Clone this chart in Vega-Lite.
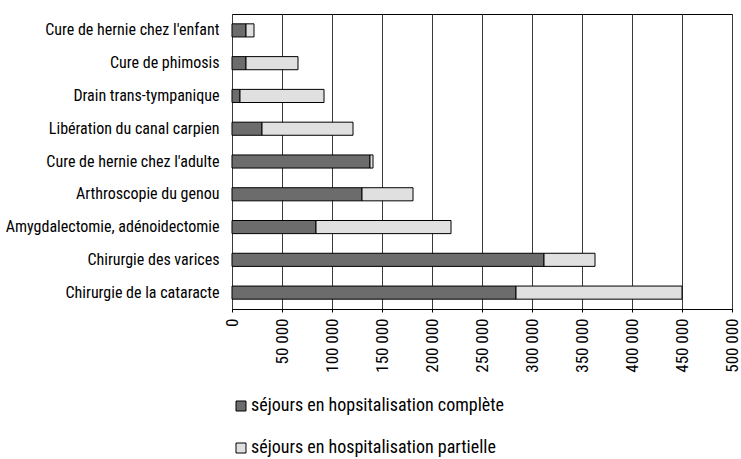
{
  "$schema": "https://vega.github.io/schema/vega-lite/v6.json",
  "width": 500,
  "height": 295,
  "autosize": {"type": "none"},
  "padding": {"left": 232, "top": 14, "right": 9, "bottom": 150},
  "background": "white",
  "config": {
    "font": "Roboto Condensed",
    "view": {"stroke": "black", "strokeWidth": 1},
    "legend": {"padding": 0}
  },
  "data": {
    "values": [
      {"acte": "Cure de hernie chez l'enfant", "type": "séjours en hopsitalisation complète", "sejours": 14000},
      {"acte": "Cure de hernie chez l'enfant", "type": "séjours en hospitalisation partielle", "sejours": 8000},
      {"acte": "Cure de phimosis", "type": "séjours en hopsitalisation complète", "sejours": 14000},
      {"acte": "Cure de phimosis", "type": "séjours en hospitalisation partielle", "sejours": 52000},
      {"acte": "Drain trans-tympanique", "type": "séjours en hopsitalisation complète", "sejours": 8000},
      {"acte": "Drain trans-tympanique", "type": "séjours en hospitalisation partielle", "sejours": 84000},
      {"acte": "Libération du canal carpien", "type": "séjours en hopsitalisation complète", "sejours": 30000},
      {"acte": "Libération du canal carpien", "type": "séjours en hospitalisation partielle", "sejours": 91000},
      {"acte": "Cure de hernie chez l'adulte", "type": "séjours en hopsitalisation complète", "sejours": 138000},
      {"acte": "Cure de hernie chez l'adulte", "type": "séjours en hospitalisation partielle", "sejours": 3000},
      {"acte": "Arthroscopie du genou", "type": "séjours en hopsitalisation complète", "sejours": 130000},
      {"acte": "Arthroscopie du genou", "type": "séjours en hospitalisation partielle", "sejours": 51000},
      {"acte": "Amygdalectomie, adénoidectomie", "type": "séjours en hopsitalisation complète", "sejours": 84000},
      {"acte": "Amygdalectomie, adénoidectomie", "type": "séjours en hospitalisation partielle", "sejours": 135000},
      {"acte": "Chirurgie des varices", "type": "séjours en hopsitalisation complète", "sejours": 312000},
      {"acte": "Chirurgie des varices", "type": "séjours en hospitalisation partielle", "sejours": 51000},
      {"acte": "Chirurgie de la cataracte", "type": "séjours en hopsitalisation complète", "sejours": 284000},
      {"acte": "Chirurgie de la cataracte", "type": "séjours en hospitalisation partielle", "sejours": 166000}
    ]
  },
  "mark": {"type": "bar", "stroke": "black", "strokeWidth": 1},
  "encoding": {
    "y": {
      "field": "acte",
      "type": "nominal",
      "sort": null,
      "title": null,
      "scale": {"paddingInner": 0.6, "paddingOuter": 0.3},
      "axis": {"ticks": false, "domain": false, "labelFontSize": 16, "labelColor": "black", "labelPadding": 13, "labelLimit": 300}
    },
    "x": {
      "field": "sejours",
      "type": "quantitative",
      "stack": "zero",
      "title": null,
      "scale": {"domain": [0, 500000], "nice": false},
      "axis": {
        "values": [0, 50000, 100000, 150000, 200000, 250000, 300000, 350000, 400000, 450000, 500000],
        "labelExpr": "replace(format(datum.value, ',d'), /,/g, ' ')",
        "labelAngle": -90,
        "labelAlign": "right",
        "labelBaseline": "middle",
        "labelFontSize": 17,
        "labelColor": "black",
        "labelPadding": 6,
        "tickColor": "black",
        "tickSize": 3,
        "domainColor": "black",
        "grid": true,
        "gridColor": "#3a3a3a",
        "gridOpacity": 1,
        "labelFlush": false,
        "labelOverlap": false
      }
    },
    "color": {
      "field": "type",
      "type": "nominal",
      "scale": {
        "domain": ["séjours en hopsitalisation complète", "séjours en hospitalisation partielle"],
        "range": ["#6c6c6c", "#e0e0e0"]
      },
      "legend": {
        "title": null,
        "orient": "none",
        "legendX": 0,
        "legendY": 383,
        "direction": "vertical",
        "symbolType": "square",
        "symbolSize": 100,
        "symbolStrokeColor": "black",
        "symbolStrokeWidth": 1,
        "symbolOpacity": 1,
        "labelFontSize": 18,
        "labelColor": "black",
        "labelOffset": 1,
        "labelLimit": 400,
        "rowPadding": 24
      }
    },
    "order": {"field": "type", "sort": "ascending"}
  }
}
